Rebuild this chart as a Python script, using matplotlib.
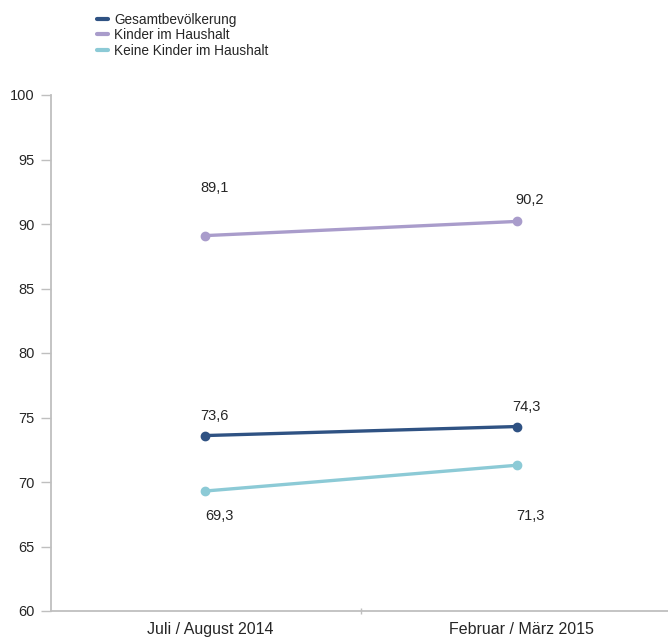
import matplotlib
matplotlib.use("Agg")
import matplotlib.pyplot as plt

# data
categories = ['Juli / August 2014', 'Februar / März 2015']
series_names = ['Gesamtbevölkerung', 'Kinder im Haushalt', 'Keine Kinder im Haushalt']
gesamt = [73.6, 74.3]
kinder = [89.1, 90.2]
keine_kinder = [69.3, 71.3]
y_ticks = [60, 65, 70, 75, 80, 85, 90, 95, 100]

colors = ['#2f5283', '#a99ccb', '#8ccad6']
# label offsets (pixels) per series and point
offsets = [
    [(9, 20), (9, 20)],
    [(9, 48), (13, 21)],
    [(14, -25), (13, -51)],
]

plt.rcParams['font.family'] = ['Liberation Sans', 'DejaVu Sans']
text_color = '#262626'

fig = plt.figure(figsize=(6.68, 6.42), dpi=100)
ax = fig.add_axes([51 / 668, 1 - 611 / 642, 1 - 51 / 668, (611 - 95) / 642])

x = list(range(len(categories)))
all_series = [gesamt, kinder, keine_kinder]
for vals, name, col, offs in zip(all_series, series_names, colors, offsets):
    ax.plot(x, vals, color=col, lw=2.4, marker='o', markersize=6, label=name,
            solid_capstyle='round')
    for xi, v, (dx, dy) in zip(x, vals, offs):
        ax.annotate(('%.1f' % v).replace('.', ','), (xi, v), xytext=(dx, dy),
                    textcoords='offset pixels', ha='center', va='center',
                    fontsize=10.5, color=text_color)

ax.set_xlim(-0.494, 1.484)
ax.set_ylim(60, 100)
ax.set_yticks(y_ticks)
ax.set_yticklabels([str(t) for t in y_ticks], fontsize=10.5, color=text_color)
ax.set_xticks([0.5])
ax.set_xticklabels([''])
for xi, c in zip(x, categories):
    ax.text(xi + 0.015, -0.022, c, transform=ax.get_xaxis_transform(),
            ha='center', va='top', fontsize=11.5, color=text_color)

for s in ['top', 'right']:
    ax.spines[s].set_visible(False)
for s in ['left', 'bottom']:
    ax.spines[s].set_color('#bfbfbf')
    ax.spines[s].set_linewidth(1.3)
ax.tick_params(axis='y', length=7, color='#bfbfbf', width=1, pad=5)
ax.tick_params(axis='x', length=5, color='#bfbfbf', width=1, direction='inout')

fig.legend(loc='upper left', bbox_to_anchor=(90 / 668, 1 - 6 / 642), frameon=False,
           fontsize=9.8, handlelength=0.8, handletextpad=0.5, labelspacing=0.1,
           borderpad=0, labelcolor=text_color)
for h in fig.legends[0].legend_handles:
    h.set_marker('')
    h.set_linewidth(3)

fig.savefig('out.png', dpi=100)
